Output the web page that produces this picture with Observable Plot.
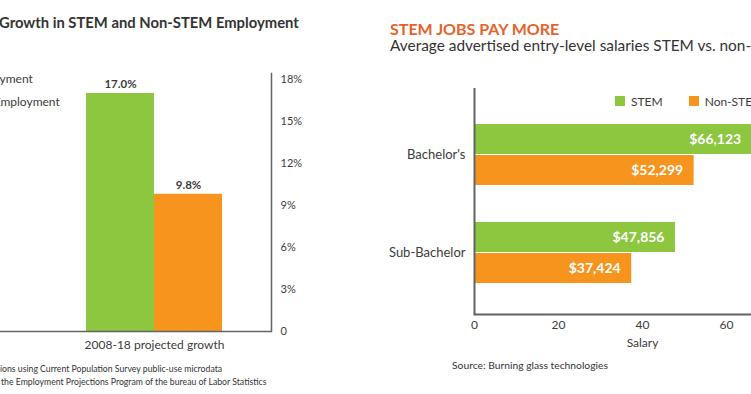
<!DOCTYPE html>
<html><head><meta charset="utf-8">
<script src="https://cdn.jsdelivr.net/npm/d3@7"></script>
<script src="https://cdn.jsdelivr.net/npm/@observablehq/plot@0.6"></script>
<style>
html,body{margin:0;padding:0;background:#fff;}
#root{position:relative;width:751px;height:394px;overflow:hidden;font-family:Lato,sans-serif;color:#3b3b3b;}
.abs{position:absolute;white-space:nowrap;line-height:1;}
#root > svg{position:absolute;overflow:visible;}
</style></head><body><div id="root"></div>
<script>
// ---- Left chart data ----
const growthGroup = "2008-18 projected growth";
const growthSeries = ["STEM Employment", "Non-STEM Employment"];
const growthValues = [17.0, 9.8];
const growthTicks = [0, 3, 6, 9, 12, 15, 18];

// ---- Right chart data ----
const degrees = ["Bachelor's", "Sub-Bachelor"];
const salarySeries = ["STEM", "Non-STEM"];
const stemSalaries = [66123, 47856];
const nonStemSalaries = [52299, 37424];
const salaryTicks = [0, 20, 40, 60];

const colors = ["#8dc63f", "#f7941d"];
const ink = "#3b3b3b";
const axisInk = "#626366";

const root = document.getElementById("root");
function addText(txt, css) {
  const d = document.createElement("div");
  d.className = "abs";
  d.textContent = txt;
  d.style.cssText += css;
  root.appendChild(d);
  return d;
}

// ---------- LEFT CHART ----------
const growth = growthSeries.map((s, i) => ({group: growthGroup, series: s, value: growthValues[i]}));
const pct = d => d.toFixed(1) + "%";
const left = Plot.plot({
  width: 330, height: 394,
  marginTop: 73, marginBottom: 63, marginLeft: 0, marginRight: 59,
  style: {fontFamily: "Lato, sans-serif", color: ink, background: "transparent", overflow: "visible"},
  x: {domain: [growthGroup], paddingInner: 0, paddingOuter: 0.4963, align: 0.637},
  y: {domain: [0, 18], range: [331, 79]},
  marks: [
    Plot.barY(growth.filter(d => d.series === growthSeries[0]), {x: "group", y: "value", fill: colors[0], insetRight: 68}),
    Plot.barY(growth.filter(d => d.series === growthSeries[1]), {x: "group", y: "value", fill: colors[1], insetLeft: 68}),
    Plot.text(growth.filter(d => d.series === growthSeries[0]), {x: "group", y: "value", text: d => pct(d.value), dx: -34, dy: -9, fontWeight: "bold", fontSize: 11.5, fill: ink}),
    Plot.text(growth.filter(d => d.series === growthSeries[1]), {x: "group", y: "value", text: d => pct(d.value), dx: 34, dy: -9, fontWeight: "bold", fontSize: 11.5, fill: ink}),
    Plot.ruleY([0], {stroke: axisInk, strokeWidth: 1.5}),
    Plot.frame({anchor: "right", stroke: axisInk, strokeWidth: 1.5}),
    Plot.axisY({anchor: "right", ticks: growthTicks, tickSize: 0, tickPadding: 9, fontSize: 11, tickFormat: d => d === 0 ? "0" : d + "%", label: null}),
    Plot.axisX({anchor: "bottom", tickSize: 0, tickPadding: 9, fontSize: 12, label: null})
  ]
});
left.style.left = "0px"; left.style.top = "0px";
root.appendChild(left);

addText("Growth in STEM and Non-STEM Employment", "left:-1px;top:15px;font-size:14.8px;font-weight:bold;color:#333;");
addText("ions using Current Population Survey public-use microdata", "left:0px;top:364.5px;font-size:8.7px;color:#333;");
addText("the Employment Projections Program of the bureau of Labor Statistics", "left:1px;top:377.5px;font-size:8.7px;color:#333;");

const legL = Plot.legend({color: {domain: growthSeries, range: colors}, columns: 1, swatchSize: 10, className: "legL"});
legL.style.cssText += "position:absolute;left:-84px;top:70.5px;width:200px;font-family:Lato,sans-serif;font-size:12px;color:" + ink + ";margin:0;";
root.appendChild(legL);

// ---------- RIGHT CHART ----------
const salaries = [];
degrees.forEach((g, i) => {
  salaries.push({degree: g, series: salarySeries[0], salary: stemSalaries[i]});
  salaries.push({degree: g, series: salarySeries[1], salary: nonStemSalaries[i]});
});
const money = d => "$" + d3.format(",")(d.salary);
const sx = d => d.salary / 1000;
const stem = salaries.filter(d => d.series === salarySeries[0]);
const non = salaries.filter(d => d.series === salarySeries[1]);
const right = Plot.plot({
  width: 500, height: 394,
  marginTop: 88, marginBottom: 80, marginLeft: 104, marginRight: 60,
  style: {fontFamily: "Lato, sans-serif", color: ink, background: "transparent", overflow: "visible"},
  x: {domain: [0, 80]},
  y: {domain: degrees, paddingInner: 0.374, paddingOuter: 0.33, align: 0.54},
  marks: [
    Plot.barX(stem, {x: sx, y: "degree", fill: colors[0], insetBottom: 31}),
    Plot.barX(non, {x: sx, y: "degree", fill: colors[1], insetTop: 31}),
    Plot.text(stem, {x: sx, y: "degree", text: money, dy: -15.5, dx: -11, textAnchor: "end", fill: "white", fontWeight: "bold", fontSize: 14}),
    Plot.text(non, {x: sx, y: "degree", text: money, dy: 15.5, dx: -11, textAnchor: "end", fill: "white", fontWeight: "bold", fontSize: 14}),
    Plot.ruleX([0], {stroke: axisInk, strokeWidth: 2}),
    Plot.frame({anchor: "bottom", stroke: axisInk, strokeWidth: 2}),
    Plot.axisY({anchor: "left", tickSize: 0, tickPadding: 9, fontSize: 13, label: null}),
    Plot.axisX({anchor: "bottom", ticks: salaryTicks, tickSize: 0, tickPadding: 6, fontSize: 12, label: "Salary", labelAnchor: "center", labelArrow: "none", labelOffset: 32})
  ]
});
right.style.left = "370px"; right.style.top = "0px";
root.appendChild(right);

addText("STEM JOBS PAY MORE", "left:390px;top:20.5px;font-size:16px;font-weight:bold;color:#e5622b;");
addText("Average advertised entry-level salaries STEM vs. non-STEM", "left:390px;top:37.5px;font-size:15.4px;color:#333;");
addText("Source: Burning glass technologies", "left:452px;top:359.6px;font-size:10.3px;color:#333;");

const legR = Plot.legend({color: {domain: salarySeries, range: colors}, swatchSize: 10, className: "legR"});
legR.style.cssText += "position:absolute;left:615px;top:84.5px;font-family:Lato,sans-serif;font-size:12px;color:" + ink + ";margin:0;white-space:nowrap;flex-wrap:nowrap;";
root.appendChild(legR);
const st = document.createElement("style");
st.textContent = "#root .legR-swatch{margin-right:26px !important;} #root .legR-swatch>svg{margin-right:6px !important;} #root .legL-swatch{padding-bottom:8px !important;} #root .legL-swatch>svg{margin-right:6px !important;}";
document.head.appendChild(st);
</script>
</body></html>
